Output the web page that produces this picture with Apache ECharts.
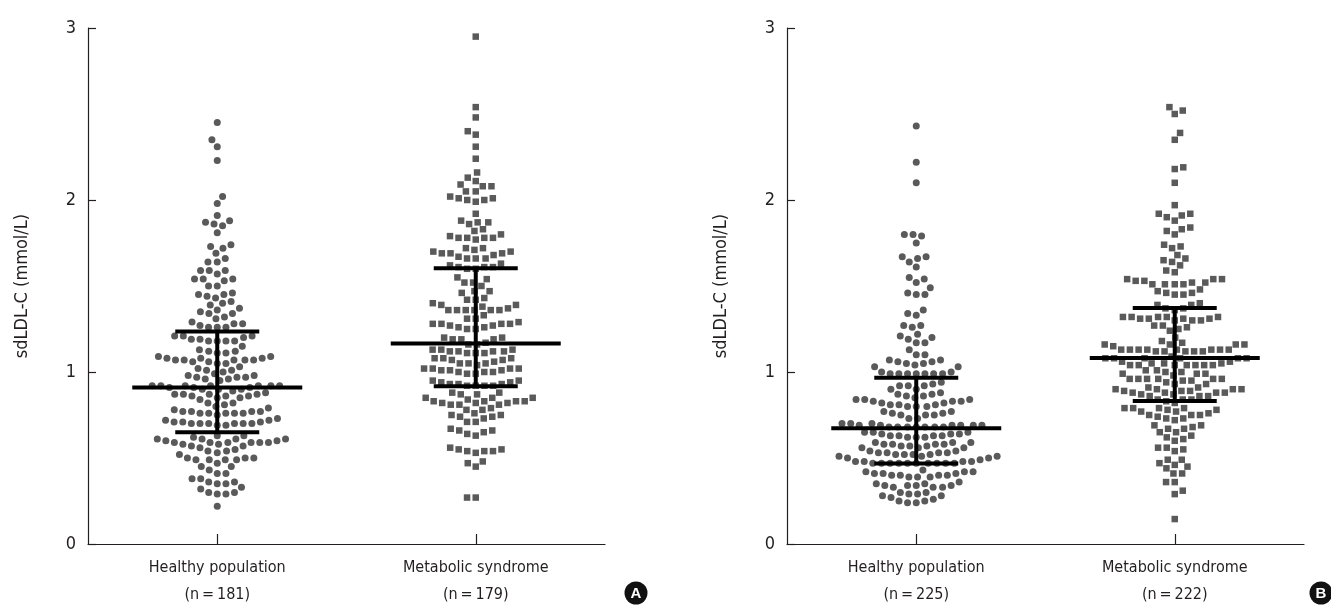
<!DOCTYPE html>
<html>
<head>
<meta charset="utf-8">
<script src="https://cdn.jsdelivr.net/npm/echarts@6/dist/echarts.min.js"></script>
<style>
html,body{margin:0;padding:0;background:#fff;}
#c{width:1331px;height:605px;}
</style>
</head>
<body>
<div id="c"></div>
<script>
// ---------------- DATA ----------------
const categories = ['Healthy population', 'Metabolic syndrome'];
const countLabelsA = ['(n\u2009=\u2009181)', '(n\u2009=\u2009179)'];
const countLabelsB = ['(n\u2009=\u2009225)', '(n\u2009=\u2009222)'];
const yTickValues = [0, 1, 2, 3];
const yAxisTitle = 'sdLDL-C (mmol/L)';
const panelLetters = ['A', 'B'];

// Panel A, healthy population (sdLDL-C, mmol/L)
const healthyA = [
  2.45, 2.35, 2.31, 2.23, 2.02, 1.98,
  1.91, 1.88, 1.86, 1.87, 1.85, 1.81,
  1.74, 1.73, 1.72, 1.69,
  1.66, 1.64, 1.64,
  1.59, 1.59, 1.57, 1.59,
  1.54, 1.53, 1.54, 1.54,
  1.50, 1.50,
  1.46, 1.45, 1.43, 1.41, 1.44, 1.45,
  1.40, 1.39,
  1.37, 1.35, 1.36, 1.34, 1.34,
  1.31, 1.32,
  1.28, 1.26, 1.26, 1.29, 1.26, 1.27, 1.28,
  1.21, 1.20, 1.19, 1.18, 1.18, 1.18, 1.18, 1.19, 1.21, 1.21,
  1.15, 1.12, 1.11, 1.11, 1.12, 1.13,
  1.09, 1.08, 1.08, 1.07, 1.07, 1.06, 1.06, 1.05, 1.05, 1.07, 1.07, 1.07, 1.08, 1.09,
  1.02, 1.01, 1.00, 1.01, 1.03, 0.99,
  0.97, 0.96, 0.95, 0.98, 0.98, 0.96, 0.97, 0.97,
  0.92, 0.92, 0.92, 0.92, 0.91, 0.91, 0.91, 0.92, 0.92, 0.92,
  0.90, 0.89, 0.88, 0.85, 0.87, 0.86, 0.86, 0.87, 0.87, 0.87, 0.86, 0.85, 0.90, 0.90,
  0.82, 0.81, 0.80, 0.82, 0.84,
  0.78, 0.77, 0.76, 0.76, 0.76, 0.76, 0.75, 0.76, 0.77, 0.77, 0.77, 0.79,
  0.73, 0.72, 0.71, 0.70, 0.70, 0.70, 0.69, 0.69, 0.70, 0.70, 0.70, 0.71, 0.71, 0.72,
  0.63, 0.62, 0.63,
  0.61, 0.61, 0.60, 0.59, 0.59, 0.59, 0.58, 0.57, 0.56, 0.57, 0.58, 0.59, 0.59, 0.59, 0.60, 0.61, 0.61,
  0.55, 0.54, 0.50, 0.50, 0.49, 0.49, 0.49, 0.49, 0.50, 0.52, 0.53, 0.54,
  0.47, 0.45, 0.41, 0.41, 0.43, 0.45,
  0.38, 0.36, 0.35, 0.35, 0.36, 0.38,
  0.33, 0.30, 0.29, 0.29, 0.30, 0.32,
  0.22
];

// Panel A, metabolic syndrome
const metabolicA = [
  2.95,
  2.54, 2.48,
  2.40, 2.38,
  2.31,
  2.24,
  2.16,
  2.13, 2.11, 2.09, 2.08, 2.08,
  2.05, 2.05, 2.02, 2.01, 2.00, 1.99, 2.00, 2.01,
  1.92,
  1.87, 1.87, 1.88, 1.86, 1.83, 1.82,
  1.80, 1.78, 1.78, 1.77, 1.78, 1.78, 1.79,
  1.72, 1.70, 1.69, 1.66, 1.68, 1.66, 1.69, 1.67, 1.69, 1.66, 1.70, 1.71, 1.72,
  1.62, 1.60, 1.60, 1.61, 1.63, 1.61, 1.61,
  1.54, 1.52, 1.55, 1.50, 1.52,
  1.47, 1.43, 1.42, 1.42, 1.46, 1.47,
  1.40, 1.39, 1.37, 1.36, 1.33, 1.36, 1.36, 1.36, 1.36, 1.36, 1.38, 1.39,
  1.31, 1.31, 1.29, 1.28, 1.27, 1.26, 1.25, 1.25, 1.26, 1.27, 1.28, 1.28, 1.28,
  1.20, 1.19, 1.19, 1.19, 1.20, 1.17, 1.16, 1.16,
  1.13, 1.12, 1.12, 1.11, 1.11, 1.11, 1.12, 1.12, 1.13, 1.13,
  1.08, 1.07, 1.06, 1.05, 1.04, 1.05, 1.05, 1.07, 1.08, 1.08,
  1.02, 1.01, 1.01, 1.00, 0.99, 0.99, 1.00, 1.00, 1.01, 1.02, 1.02, 1.02,
  0.95, 0.94, 0.93, 0.92, 0.92, 0.92, 0.93, 0.92, 0.93, 0.94, 0.95,
  0.88, 0.87, 0.85, 0.84, 0.85, 0.85, 0.87, 0.88,
  0.83, 0.82, 0.82, 0.81, 0.81, 0.78, 0.78, 0.79, 0.81, 0.82, 0.83, 0.83, 0.83,
  0.75, 0.74, 0.74, 0.71, 0.71, 0.73, 0.75, 0.76,
  0.67, 0.66, 0.64, 0.63, 0.65, 0.66,
  0.56, 0.55, 0.54, 0.53, 0.54, 0.54, 0.55,
  0.48, 0.45, 0.47,
  0.27, 0.27
];

// Panel B, healthy population
const healthyB = [
  2.43, 2.22, 2.10,
  1.80, 1.79, 1.80, 1.75,
  1.66, 1.67, 1.67, 1.64, 1.61,
  1.54, 1.52, 1.55, 1.49,
  1.46, 1.45, 1.45,
  1.34, 1.33, 1.36,
  1.27, 1.26, 1.27,
  1.22, 1.20, 1.17, 1.17, 1.19, 1.21,
  1.13, 1.10, 1.10,
  1.07, 1.06, 1.05, 1.04, 1.05, 1.06, 1.07, 1.03, 1.03,
  1.00, 0.99, 0.99, 0.99, 0.99, 0.99, 0.99, 0.99, 1.00,
  0.94, 0.92, 0.92, 0.92, 0.93, 0.90, 0.90,
  0.88, 0.87, 0.86, 0.86, 0.85, 0.87,
  0.84, 0.83, 0.83, 0.82, 0.81, 0.81, 0.80, 0.80, 0.80, 0.81, 0.82, 0.83, 0.84, 0.84,
  0.77, 0.76, 0.75, 0.73, 0.73, 0.75, 0.75, 0.76, 0.77,
  0.70, 0.69, 0.69, 0.69, 0.68, 0.68, 0.68, 0.68, 0.68, 0.68, 0.68, 0.69, 0.69, 0.69, 0.70, 0.70,
  0.65, 0.64, 0.63, 0.63, 0.62, 0.62, 0.62, 0.63, 0.63, 0.64, 0.65, 0.65, 0.64,
  0.59, 0.58, 0.58, 0.57, 0.56, 0.56, 0.56, 0.57, 0.57, 0.58, 0.59, 0.59, 0.58,
  0.53, 0.53, 0.52, 0.52, 0.51, 0.50, 0.50, 0.51, 0.51, 0.52, 0.53, 0.53, 0.54, 0.54, 0.52,
  0.48, 0.48, 0.47, 0.47, 0.47, 0.47, 0.47, 0.47, 0.47, 0.47, 0.47, 0.47, 0.48, 0.48, 0.49,
  0.42, 0.41, 0.41, 0.40, 0.40, 0.39, 0.39, 0.39, 0.40, 0.40, 0.41, 0.42, 0.42, 0.43,
  0.35, 0.34, 0.34, 0.33, 0.33, 0.33, 0.34, 0.34, 0.35, 0.36,
  0.30, 0.29, 0.28, 0.28, 0.27, 0.29, 0.30,
  0.25, 0.24, 0.24, 0.25, 0.26
];

// Panel B, metabolic syndrome
const metabolicB = [
  2.54, 2.50, 2.52,
  2.39, 2.35,
  2.18, 2.19,
  2.10,
  1.97,
  1.92, 1.90, 1.88, 1.91, 1.92,
  1.83, 1.80, 1.82, 1.84,
  1.73, 1.72, 1.74,
  1.66, 1.64, 1.65, 1.68, 1.62,
  1.59, 1.58,
  1.54, 1.53, 1.52, 1.51, 1.51, 1.51, 1.51, 1.52, 1.53, 1.54, 1.54,
  1.48, 1.46, 1.45, 1.45, 1.46, 1.47,
  1.40, 1.39, 1.39,
  1.37, 1.36, 1.37,
  1.32, 1.32, 1.31, 1.30, 1.30, 1.30, 1.32, 1.31, 1.31, 1.31, 1.32, 1.32,
  1.27, 1.25, 1.24, 1.26, 1.27,
  1.20, 1.17, 1.16, 1.16, 1.15, 1.16, 1.16, 1.18,
  1.13, 1.13, 1.13, 1.12, 1.12, 1.12, 1.13, 1.13, 1.12, 1.12, 1.13, 1.13, 1.13,
  1.09, 1.08, 1.08, 1.08, 1.08, 1.08, 1.08,
  1.06, 1.05, 1.05, 1.04, 1.04, 1.04, 1.04, 1.04, 1.04, 1.04, 1.05, 1.06,
  1.01, 1.00, 0.99, 0.99, 0.98, 0.99, 1.00, 1.01,
  0.96, 0.95, 0.94, 0.96, 0.96, 0.96, 0.96, 0.95, 0.96,
  0.91, 0.90, 0.90, 0.90, 0.89, 0.90, 0.91, 0.93, 0.93,
  0.89, 0.88, 0.88, 0.87, 0.86, 0.86, 0.86, 0.87, 0.88, 0.88, 0.89,
  0.84, 0.83, 0.82, 0.84, 0.84,
  0.78, 0.77, 0.76, 0.75, 0.79, 0.79, 0.75, 0.77, 0.79, 0.79, 0.78,
  0.73, 0.73, 0.72, 0.74, 0.75,
  0.69, 0.68, 0.67, 0.65, 0.65, 0.67, 0.69,
  0.63, 0.61, 0.60, 0.62,
  0.56, 0.54, 0.55, 0.56,
  0.49, 0.47, 0.45, 0.44, 0.46, 0.49,
  0.41, 0.41,
  0.36, 0.36,
  0.31, 0.29,
  0.145
];

// [category index, mean, lower bar, upper bar]
const barsA = [[0, 0.91, 0.65, 1.235], [1, 1.165, 0.917, 1.603]];
const barsB = [[0, 0.673, 0.468, 0.967], [1, 1.081, 0.832, 1.372]];

// ---------------- CHART ----------------
const FONT = "'Liberation Sans Narrow', 'DejaVu Sans Condensed', 'Roboto', sans-serif";
const TXT = '#231f20';
const DOT = '#5a5a5a';

const chart = echarts.init(document.getElementById('c'), null, {renderer: 'canvas'});

function catAxis(gridIndex, counts) {
  return {
    type: 'category', gridIndex: gridIndex, data: categories,
    boundaryGap: true,
    axisLine: {show: true, onZero: false, lineStyle: {color: TXT, width: 1.2}},
    axisTick: {show: true, inside: true, length: 10, alignWithLabel: true, lineStyle: {color: TXT, width: 1.2}},
    axisLabel: {
      show: true, margin: 10, color: TXT, fontFamily: FONT, fontSize: 16, lineHeight: 27,
      formatter: (v, i) => v + '\n' + counts[i]
    },
    splitLine: {show: false}
  };
}
function valXAxis(gridIndex) {
  return {type: 'value', gridIndex: gridIndex, min: -0.5, max: 1.5, show: false,
          axisLine: {onZero: false}, splitLine: {show: false}};
}
function yAxis(gridIndex) {
  return {
    type: 'value', gridIndex: gridIndex,
    min: yTickValues[0], max: yTickValues[yTickValues.length - 1], interval: 1,
    name: yAxisTitle, nameLocation: 'middle', nameGap: 57, nameRotate: 90,
    nameTextStyle: {color: TXT, fontFamily: FONT, fontSize: 18},
    axisLine: {show: true, onZero: false, lineStyle: {color: TXT, width: 1.2}},
    axisTick: {show: true, inside: true, length: 8, lineStyle: {color: TXT, width: 1.2}},
    axisLabel: {show: true, margin: 12, color: TXT, fontFamily: FONT, fontSize: 18},
    splitLine: {show: false}
  };
}

function renderBars(params, api) {
  const x = api.value(0);
  const pm = api.coord([x, api.value(1)]);
  const pl = api.coord([x, api.value(2)]);
  const ph = api.coord([x, api.value(3)]);
  const hw = 85, sw = 42;
  const st = {stroke: '#000', lineWidth: 4};
  return {
    type: 'group',
    children: [
      {type: 'line', shape: {x1: ph[0], y1: ph[1], x2: pl[0], y2: pl[1]}, style: st},
      {type: 'line', shape: {x1: pm[0] - hw, y1: pm[1], x2: pm[0] + hw, y2: pm[1]}, style: st},
      {type: 'line', shape: {x1: ph[0] - sw, y1: ph[1], x2: ph[0] + sw, y2: ph[1]}, style: st},
      {type: 'line', shape: {x1: pl[0] - sw, y1: pl[1], x2: pl[0] + sw, y2: pl[1]}, style: st}
    ]
  };
}

const base = {
  animation: false,
  backgroundColor: '#fff',
  grid: [
    {left: 88, top: 28, width: 517, height: 516, containLabel: false, outerBoundsMode: 'none'},
    {left: 787, top: 28, width: 517, height: 516, containLabel: false, outerBoundsMode: 'none'}
  ],
  xAxis: [catAxis(0, countLabelsA), valXAxis(0), catAxis(1, countLabelsB), valXAxis(1)],
  yAxis: [yAxis(0), yAxis(1)],
  graphic: [
    {type: 'circle', shape: {cx: 636, cy: 593, r: 11.5}, style: {fill: '#111'}},
    {type: 'text', x: 636, y: 594, style: {text: panelLetters[0], fill: '#fff', font: "bold 15px 'Liberation Sans', sans-serif", align: 'center', verticalAlign: 'middle'}},
    {type: 'circle', shape: {cx: 1321, cy: 593, r: 11.5}, style: {fill: '#111'}},
    {type: 'text', x: 1321, y: 594, style: {text: panelLetters[1], fill: '#fff', font: "bold 15px 'Liberation Sans', sans-serif", align: 'center', verticalAlign: 'middle'}}
  ],
  series: []
};
chart.setOption(base);

// beeswarm layout in pixel space, using the library's scales
function swarm(values, catIndex, xAxisIndex, yAxisIndex, d) {
  const pxX = chart.convertToPixel({xAxisIndex: xAxisIndex}, 1) - chart.convertToPixel({xAxisIndex: xAxisIndex}, 0);
  const pxY = chart.convertToPixel({yAxisIndex: yAxisIndex}, 0) - chart.convertToPixel({yAxisIndex: yAxisIndex}, 1);
  const sorted = values.slice().sort((a, b) => a - b);
  const placed = [];
  const out = [];
  sorted.forEach((v, i) => {
    const y = v * pxY;
    const cands = [0];
    placed.forEach(p => {
      const dy = Math.abs(p.y - y);
      if (dy < d) {
        const dx = Math.sqrt(d * d - dy * dy);
        cands.push(p.x + dx, p.x - dx);
      }
    });
    const sign = (i % 2) ? 1 : -1;
    cands.sort((a, b) => (Math.abs(a) - Math.abs(b)) || (sign * (a - b)));
    let best = 0;
    for (const c of cands) {
      let ok = true;
      for (const p of placed) {
        const ddx = p.x - c, ddy = p.y - y;
        if (ddx * ddx + ddy * ddy < d * d - 0.01) { ok = false; break; }
      }
      if (ok) { best = c; break; }
    }
    placed.push({x: best, y: y});
    out.push([catIndex + best / pxX, v]);
  });
  return out;
}

const D = 8.7;
function dots(values, cat, xi, yi, symbol, size) {
  return {
    type: 'scatter', xAxisIndex: xi, yAxisIndex: yi,
    symbol: symbol, symbolSize: size,
    itemStyle: {color: DOT, opacity: 1},
    silent: true, z: 2,
    data: swarm(values, cat, xi, yi, D)
  };
}
function bars(data, xi, yi) {
  return {
    type: 'custom', xAxisIndex: xi, yAxisIndex: yi,
    renderItem: renderBars, silent: true, z: 5,
    encode: {x: 0, y: [1, 2, 3]},
    data: data
  };
}

chart.setOption({
  series: [
    dots(healthyA, 0, 1, 0, 'circle', 7),
    dots(metabolicA, 1, 1, 0, 'rect', 6.5),
    dots(healthyB, 0, 3, 1, 'circle', 7),
    dots(metabolicB, 1, 3, 1, 'rect', 6.5),
    bars(barsA, 1, 0),
    bars(barsB, 3, 1)
  ]
});
</script>
</body>
</html>
